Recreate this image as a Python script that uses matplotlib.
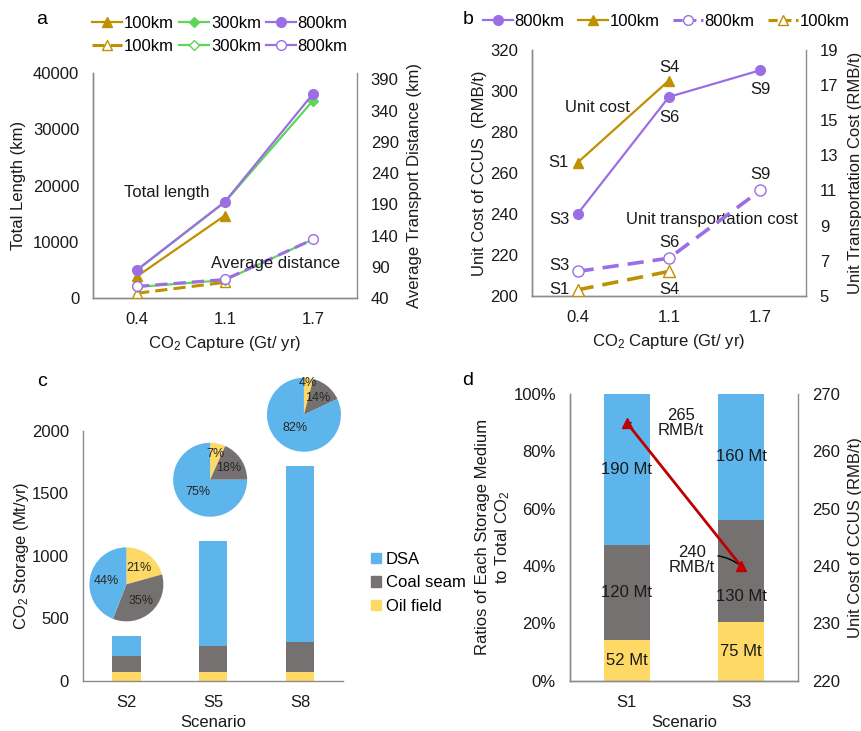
import numpy as np
import matplotlib.pyplot as plt
from matplotlib.lines import Line2D
from matplotlib.patches import Patch

plt.rcParams['font.family'] = ['Liberation Sans', 'DejaVu Sans']
plt.rcParams['font.size'] = 12
plt.rcParams['mathtext.fontset'] = 'custom'
plt.rcParams['mathtext.rm'] = 'Liberation Sans'
plt.rcParams['mathtext.default'] = 'regular'

# colours
GOLD = '#BF9000'
GREEN = '#5DD65A'
PURPLE = '#9B6FE3'
DSA_C = '#5DB5EC'
COAL_C = '#767171'
OIL_C = '#FFD966'
RED = '#C00000'
SPINE = '#8C8C8C'
TXT = '#1a1a1a'

# ---- data ----
capture = ['0.4', '1.1', '1.7']

# a: total pipeline length (km) and average transport distance (km)
total_100 = [3900, 14700]
total_300 = [5000, 17100, 35100]
total_800 = [5050, 17150, 36300]
avg_100 = [48, 65.5]
avg_300 = [58, 69, 134]
avg_800 = [59, 70, 134]

# b: unit cost of CCUS and unit transport cost (RMB/t)
cost_800 = [240, 297, 310]
cost_100 = [265, 305]
trans_800 = [6.4, 7.15, 11.0]
trans_100 = [5.35, 6.4]
lab_cost_800 = ['S3', 'S6', 'S9']
lab_cost_100 = ['S1', 'S4']

# c: storage by medium (Mt/yr)
scen_c = ['S2', 'S5', 'S8']
oil_c = [75, 75, 70]
coal_c = [128, 205, 240]
dsa_c = [160, 840, 1410]

# d: storage by medium (Mt) and unit cost (RMB/t)
scen_d = ['S1', 'S3']
oil_d = [52, 75]
coal_d = [120, 130]
dsa_d = [190, 160]
unit_cost_d = [265, 240]


def style_axes(ax, right=False):
    for s in ['top', 'right', 'left', 'bottom']:
        ax.spines[s].set_visible(False)
    ax.spines['left'].set_visible(True)
    ax.spines['bottom'].set_visible(True)
    if right:
        ax.spines['right'].set_visible(True)
    for s in ax.spines.values():
        s.set_color(SPINE)
        s.set_linewidth(1.0)
    ax.tick_params(length=0, colors=TXT, labelsize=12, pad=10)


fig = plt.figure(figsize=(8.62, 7.31), dpi=100)

# ================= a =================
ax = fig.add_axes([0.108, 0.592, 0.306, 0.308])
axr = ax.twinx()
x = np.arange(3)
ax.plot(x[:2], total_100, color=GOLD, lw=1.6, marker='^', ms=7, zorder=3)
ax.plot(x, total_300, color=GREEN, lw=1.6, marker='D', ms=5, zorder=3)
ax.plot(x, total_800, color=PURPLE, lw=1.6, marker='o', ms=7, zorder=4)
axr.plot(x[:2], avg_100, color=GOLD, lw=2.2, ls=(0, (4, 2)), marker='^', ms=7,
         mfc='white', zorder=3)
axr.plot(x, avg_300, color=GREEN, lw=1.6, marker='D', ms=5, mfc='white', zorder=3)
axr.plot(x, avg_800, color=PURPLE, lw=2.2, ls=(0, (4, 2)), marker='o', ms=7,
         mfc='white', zorder=4)
ax.set_xlim(-0.5, 2.5)
ax.set_xticks(x, capture)
ax.set_ylim(0, 40000)
ax.set_yticks(np.arange(0, 40001, 10000))
axr.set_ylim(40, 400)
axr.set_yticks(np.arange(40, 391, 50))
style_axes(ax)
style_axes(axr, right=True)
ax.set_ylabel('Total Length (km)', color=TXT)
ax.yaxis.set_label_coords(-0.255, 0.5)
axr.set_ylabel('Average Transport Distance (km)', color=TXT, labelpad=6)
ax.set_xlabel('CO$_2$ Capture (Gt/ yr)', color=TXT, labelpad=5)
ax.text(0.34, 18800, 'Total length', fontsize=12, color=TXT, ha='center',
        va='center')
axr.text(1.58, 95.5, 'Average distance', fontsize=12, color=TXT, ha='center',
         va='center', zorder=6)

h_a = [
    Line2D([], [], color=GOLD, lw=1.6, marker='^', ms=7),
    Line2D([], [], color=GOLD, lw=2.2, ls=(0, (4, 2)), marker='^', ms=7, mfc='white'),
    Line2D([], [], color=GREEN, lw=1.6, marker='D', ms=5),
    Line2D([], [], color=GREEN, lw=1.6, marker='D', ms=5, mfc='white'),
    Line2D([], [], color=PURPLE, lw=1.6, marker='o', ms=7),
    Line2D([], [], color=PURPLE, lw=1.6, marker='o', ms=7, mfc='white'),
]
fig.legend(h_a, ['100km'] * 2 + ['300km'] * 2 + ['800km'] * 2, ncol=3,
           loc='center', bbox_to_anchor=(220 / 862, 1 - 35 / 731), frameon=False,
           handlelength=1.8, handletextpad=0.1, columnspacing=0.3,
           labelspacing=0.5, fontsize=12)
fig.text(42 / 862, 1 - 20 / 731, 'a', fontsize=14, ha='center', va='center')

# ================= b =================
ax = fig.add_axes([0.617, 0.595, 0.318, 0.337])
axr = ax.twinx()
ax.plot(x, cost_800, color=PURPLE, lw=1.6, marker='o', ms=7, zorder=3)
ax.plot(x[:2], cost_100, color=GOLD, lw=1.6, marker='^', ms=7, zorder=3)
axr.plot(x, trans_800, color=PURPLE, lw=2.6, ls=(0, (4.5, 2.5)), marker='o', ms=8,
         mfc='white', zorder=3)
axr.plot(x[:2], trans_100, color=GOLD, lw=2.6, ls=(0, (4.5, 2.5)), marker='^', ms=8,
         mfc='white', zorder=3)
ax.set_xlim(-0.5, 2.5)
ax.set_xticks(x, capture)
ax.set_ylim(200, 320)
ax.set_yticks(np.arange(200, 321, 20))
axr.set_ylim(5, 19)
axr.set_yticks(np.arange(5, 20, 2))
style_axes(ax)
style_axes(axr, right=True)
ax.set_ylabel('Unit Cost of CCUS  (RMB/t)', color=TXT, labelpad=2)
axr.set_ylabel('Unit Transportation Cost (RMB/t)', color=TXT, labelpad=7)
ax.set_xlabel('CO$_2$ Capture (Gt/ yr)', color=TXT, labelpad=5)

off_cost_800 = [(-18, -6), (0, -21), (0, -19)]
off_cost_100 = [(-19, 0), (0, 13)]
off_trans_800 = [(-18, 6), (0, 16), (0, 16)]
off_trans_100 = [(-18, 0), (0, -18)]
for xi, yi, s, o in zip(x, cost_800, lab_cost_800, off_cost_800):
    ax.annotate(s, (xi, yi), xytext=o, textcoords='offset pixels', ha='center',
                va='center', fontsize=12, color=TXT)
for xi, yi, s, o in zip(x, cost_100, lab_cost_100, off_cost_100):
    ax.annotate(s, (xi, yi), xytext=o, textcoords='offset pixels', ha='center',
                va='center', fontsize=12, color=TXT)
for xi, yi, s, o in zip(x, trans_800, lab_cost_800, off_trans_800):
    axr.annotate(s, (xi, yi), xytext=o, textcoords='offset pixels', ha='center',
                 va='center', fontsize=12, color=TXT)
for xi, yi, s, o in zip(x, trans_100, lab_cost_100, off_trans_100):
    axr.annotate(s, (xi, yi), xytext=o, textcoords='offset pixels', ha='center',
                 va='center', fontsize=12, color=TXT)
ax.text(0.22, 292, 'Unit cost', fontsize=12, color=TXT, ha='center', va='center')
ax.text(1.47, 237.5, 'Unit transportation cost', fontsize=12, color=TXT,
        ha='center', va='center', zorder=5)

h_b = [
    Line2D([], [], color=PURPLE, lw=1.6, marker='o', ms=7),
    Line2D([], [], color=GOLD, lw=1.6, marker='^', ms=7),
    Line2D([], [], color=PURPLE, lw=2.2, ls=(0, (3, 1.5)), marker='o', ms=7, mfc='white'),
    Line2D([], [], color=GOLD, lw=2.2, ls=(0, (3, 1.5)), marker='^', ms=7, mfc='white'),
]
fig.legend(h_b, ['800km', '100km', '800km', '100km'], ncol=4, loc='center',
           bbox_to_anchor=(666 / 862, 1 - 21 / 731), frameon=False,
           handlelength=1.8, handletextpad=0.1, columnspacing=0.8, fontsize=12)
fig.text(468 / 862, 1 - 20 / 731, 'b', fontsize=14, ha='center', va='center')

# ================= c =================
ax = fig.add_axes([0.0963, 0.0684, 0.302, 0.342])
xc = np.arange(3)
oil = np.array(oil_c)
coal = np.array(coal_c)
dsa = np.array(dsa_c)
ax.bar(xc, oil, width=0.33, color=OIL_C)
ax.bar(xc, coal, width=0.33, bottom=oil, color=COAL_C)
ax.bar(xc, dsa, width=0.33, bottom=oil + coal, color=DSA_C)
ax.set_xlim(-0.5, 2.5)
ax.set_xticks(xc, scen_c)
ax.set_ylim(0, 2000)
ax.set_yticks(np.arange(0, 2001, 500))
style_axes(ax)
ax.set_ylabel('CO$_2$ Storage (Mt/yr)', color=TXT)
ax.yaxis.set_label_coords(-0.2, 0.5)
ax.set_xlabel('Scenario', color=TXT, labelpad=4)

# pies sitting above each bar
pie_lift = [410, 490, 410]
pie_shift = [0, -0.035, 0.046]
pct_dist = [[0.57, 0.6, 0.56], [0.7, 0.6, 0.48], [0.86, 0.6, 0.43]]
rad = 37
W, H = 862, 731
totals = oil + coal + dsa
for i in range(3):
    cx, cy = ax.transData.transform((xc[i] + pie_shift[i], totals[i] + pie_lift[i]))
    pax = fig.add_axes([(cx - rad) / W, (cy - rad) / H, 2 * rad / W, 2 * rad / H])
    _, _, auto = pax.pie([oil[i], coal[i], dsa[i]], colors=[OIL_C, COAL_C, DSA_C],
                         startangle=90, counterclock=False, radius=1.0,
                         autopct=lambda p: f'{p:.0f}%', pctdistance=1.0,
                         textprops=dict(fontsize=9, color='#262626'))
    for t, d in zip(auto, pct_dist[i]):
        px, py = t.get_position()
        t.set_position((px * d, py * d))
    pax.set_aspect('equal')
    pax.set_xlim(-1, 1)
    pax.set_ylim(-1, 1)
    pax.axis('off')

h_c = [Patch(color=DSA_C), Patch(color=COAL_C), Patch(color=OIL_C)]
fig.legend(h_c, ['DSA', 'Coal seam', 'Oil field'], loc='upper left',
           bbox_to_anchor=(356 / 862, 1 - 537 / 731), frameon=False,
           handlelength=0.6, handleheight=0.6, handletextpad=0.3,
           labelspacing=0.5, fontsize=12)
fig.text(42 / 862, 1 - 381 / 731, 'c', fontsize=14, ha='center', va='center')

# ================= d =================
ax = fig.add_axes([0.661, 0.0688, 0.265, 0.392])
axr = ax.twinx()
xd = np.arange(2)
oil = np.array(oil_d, float)
coal = np.array(coal_d, float)
dsa = np.array(dsa_d, float)
tot = oil + coal + dsa
f_oil, f_coal, f_dsa = oil / tot, coal / tot, dsa / tot
ax.bar(xd, f_oil, width=0.4, color=OIL_C)
ax.bar(xd, f_coal, width=0.4, bottom=f_oil, color=COAL_C)
ax.bar(xd, f_dsa, width=0.4, bottom=f_oil + f_coal, color=DSA_C)
# value labels in the middle of each segment (S3 coal nudged below the marker)
nudge = {(1, 'coal'): -0.09}
for i in range(2):
    segs = [('oil', f_oil[i], 0, oil_d[i]),
            ('coal', f_coal[i], f_oil[i], coal_d[i]),
            ('dsa', f_dsa[i], f_oil[i] + f_coal[i], dsa_d[i])]
    for name, h, b, v in segs:
        ax.text(xd[i], b + h / 2 + nudge.get((i, name), 0), f'{v} Mt',
                ha='center', va='center', fontsize=12, color=TXT)
ax.set_xlim(-0.5, 1.5)
ax.set_xticks(xd, scen_d)
ax.set_ylim(0, 1)
ax.set_yticks(np.arange(0, 1.01, 0.2), [f'{v}%' for v in range(0, 101, 20)])
axr.set_ylim(220, 270)
axr.set_yticks(np.arange(220, 271, 10))
style_axes(ax)
style_axes(axr, right=True)
axr.plot(xd, unit_cost_d, color=RED, lw=2.0, marker='^', ms=7, zorder=5)
ax.set_ylabel('Ratios of Each Storage Medium\nto Total CO$_2$', color=TXT,
              linespacing=1.2)
ax.yaxis.set_label_coords(-0.255, 0.5)
axr.set_ylabel('Unit Cost of CCUS (RMB/t)', color=TXT, labelpad=6)
ax.set_xlabel('Scenario', color=TXT, labelpad=4)
axr.annotate(f'{unit_cost_d[0]}\nRMB/t', (xd[0], unit_cost_d[0]), xytext=(0.47, 265),
             ha='center', va='center', fontsize=12, color=TXT, linespacing=1.0,
             arrowprops=dict(arrowstyle='-', color='black', lw=1.0,
                             shrinkA=17, shrinkB=0))
axr.annotate(f'{unit_cost_d[1]}\nRMB/t', (xd[1], unit_cost_d[1]), xytext=(0.57, 241),
             ha='center', va='center', fontsize=12, color=TXT, linespacing=1.0,
             arrowprops=dict(arrowstyle='-', color='black', lw=1.0,
                             connectionstyle='arc3,rad=-0.3', shrinkA=22, shrinkB=0))
fig.text(468 / 862, 1 - 380 / 731, 'd', fontsize=14, ha='center', va='center')

fig.savefig('out.png', dpi=100)
